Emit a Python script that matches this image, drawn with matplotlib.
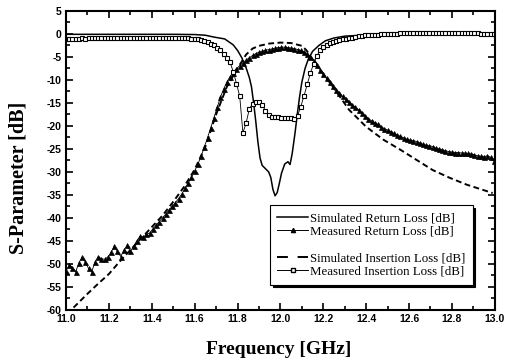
import matplotlib
matplotlib.use("Agg")
import matplotlib.pyplot as plt
from matplotlib.lines import Line2D
from matplotlib.ticker import MultipleLocator, FormatStrFormatter

plt.rcParams['axes.unicode_minus'] = False

# Simulated Return Loss (solid line)
sim_rl_f = [11.0, 11.2, 11.4, 11.5, 11.6, 11.65, 11.69, 11.74, 11.78, 11.80, 11.82, 11.84,
            11.855, 11.865, 11.875, 11.885, 11.895, 11.905, 11.915, 11.93, 11.945, 11.955,
            11.965, 11.975, 11.985, 11.995, 12.005, 12.02, 12.035, 12.045, 12.055, 12.068,
            12.08, 12.09, 12.10, 12.115, 12.13, 12.15, 12.18, 12.21, 12.25, 12.3, 12.4,
            12.6, 12.8, 13.0]
sim_rl_db = [-0.1, -0.1, -0.1, -0.1, -0.15, -0.3, -0.7, -1.1, -2.4, -3.6, -5.2, -7.4,
             -9.5, -11.5, -15.0, -19.0, -23.5, -27.0, -28.6, -29.3, -30.0, -31.2,
             -33.8, -35.2, -34.5, -32.5, -30.3, -28.3, -27.8, -28.4, -26.0, -21.6,
             -17.0, -13.5, -10.5, -7.5, -5.5, -3.8, -2.5, -1.5, -0.9, -0.5, -0.25,
             -0.1, 0.0, 0.0]

# Simulated Insertion Loss (dashed)
sim_il_f = [11.035, 11.1, 11.15, 11.2, 11.25, 11.3, 11.35, 11.4, 11.45, 11.5, 11.55, 11.6,
            11.65, 11.7, 11.75, 11.8, 11.84, 11.87, 11.9, 11.95, 12.0, 12.05, 12.1, 12.12,
            12.14, 12.16, 12.18, 12.2, 12.245, 12.32, 12.40, 12.48, 12.56, 12.635, 12.71,
            12.79, 12.87, 12.99]
sim_il_db = [-59.5, -56.5, -54.3, -52.2, -49.5, -47.0, -44.5, -42.0, -39.5, -36.5, -33.3, -29.5,
             -24.5, -17.5, -11.5, -7.5, -4.5, -3.2, -2.6, -2.1, -1.9, -2.0, -2.6, -3.5,
             -4.8, -6.2, -7.5, -8.7, -11.5, -16.5, -20.2, -23.0, -25.2, -27.4, -29.6,
             -31.3, -32.8, -34.6]

# Measurement sweep frequencies (GHz)
meas_f = [
    11.000, 11.015, 11.030, 11.045, 11.060, 11.075, 11.090, 11.105, 11.120, 11.135,
    11.150, 11.165, 11.180, 11.195, 11.210, 11.225, 11.240, 11.255, 11.270, 11.285,
    11.300, 11.315, 11.330, 11.345, 11.360, 11.375, 11.390, 11.405, 11.420, 11.435,
    11.450, 11.465, 11.480, 11.495, 11.510, 11.525, 11.540, 11.555, 11.570, 11.585,
    11.600, 11.615, 11.630, 11.645, 11.660, 11.675, 11.690, 11.705, 11.720, 11.735,
    11.750, 11.765, 11.780, 11.795, 11.810, 11.825, 11.840, 11.855, 11.870, 11.885,
    11.900, 11.915, 11.930, 11.945, 11.960, 11.975, 11.990, 12.005, 12.020, 12.035,
    12.050, 12.065, 12.080, 12.095, 12.110, 12.125, 12.140, 12.155, 12.170, 12.185,
    12.200, 12.215, 12.230, 12.245, 12.260, 12.275, 12.290, 12.305, 12.320, 12.335,
    12.350, 12.365, 12.380, 12.395, 12.410, 12.425, 12.440, 12.455, 12.470, 12.485,
    12.500, 12.515, 12.530, 12.545, 12.560, 12.575, 12.590, 12.605, 12.620, 12.635,
    12.650, 12.665, 12.680, 12.695, 12.710, 12.725, 12.740, 12.755, 12.770, 12.785,
    12.800, 12.815, 12.830, 12.845, 12.860, 12.875, 12.890, 12.905, 12.920, 12.935,
    12.950, 12.965, 12.980, 12.995]

# Measured Return Loss (triangles)
meas_rl_db = [
    -51.5, -50.3, -50.8, -51.7, -49.8, -48.5, -49.6, -51.0, -51.7, -49.6,
    -48.4, -48.9, -49.0, -48.5, -47.5, -46.2, -47.3, -48.4, -47.0, -46.0,
    -47.3, -46.2, -45.0, -44.0, -44.2, -43.6, -43.3, -42.4, -41.6, -40.8,
    -40.0, -39.2, -38.3, -37.5, -36.7, -35.8, -34.8, -33.6, -32.4, -31.2,
    -29.8, -28.3, -26.6, -24.6, -22.6, -20.4, -18.2, -16.0, -13.8, -12.0,
    -10.5, -9.3, -8.4, -7.6, -6.9, -6.3, -5.7, -5.2, -4.7, -4.3,
    -4.0, -3.8, -3.6, -3.4, -3.3, -3.1, -3.0, -2.9, -2.9, -3.0,
    -3.1, -3.2, -3.4, -3.6, -3.9, -4.4, -5.0, -5.8, -6.7, -7.8,
    -8.7, -9.6, -10.5, -11.4, -12.1, -12.9, -13.6, -14.2, -14.8, -15.4,
    -16.0, -16.5, -17.2, -17.8, -18.4, -18.9, -19.3, -19.7, -20.2, -20.6,
    -20.9, -21.3, -21.6, -22.0, -22.3, -22.6, -22.9, -23.1, -23.2, -23.4,
    -23.7, -24.0, -24.2, -24.3, -24.5, -24.8, -25.0, -25.2, -25.4, -25.6,
    -25.7, -25.8, -25.8, -25.9, -25.9, -26.0, -26.1, -26.3, -26.5, -26.6,
    -26.7, -26.5, -26.8, -27.6]

# Measured Insertion Loss (squares)
meas_il_db = [
    -1.1, -1.1, -1.05, -1.05, -1.05, -1.0, -1.05, -1.0, -1.0, -1.0,
    -1.0, -1.0, -0.95, -1.0, -0.95, -0.95, -0.95, -0.95, -0.95, -0.9,
    -0.95, -0.9, -0.9, -0.9, -0.9, -0.9, -0.9, -0.9, -0.9, -0.85,
    -0.9, -0.85, -0.85, -0.85, -0.9, -0.9, -0.9, -0.95, -1.0, -1.05,
    -1.1, -1.2, -1.35, -1.55, -1.8, -2.1, -2.5, -3.0, -3.6, -4.4,
    -5.2, -6.2, -8.2, -10.8, -13.5, -21.5, -19.4, -16.3, -15.2, -14.8,
    -14.8, -15.4, -16.7, -17.6, -18.0, -18.1, -18.1, -18.2, -18.2, -18.3,
    -18.3, -18.5, -17.8, -15.8, -13.5, -11.0, -8.5, -6.5, -4.8, -3.6,
    -2.8, -2.4, -2.0, -1.8, -1.6, -1.4, -1.2, -1.05, -0.9, -0.8,
    -0.7, -0.55, -0.45, -0.35, -0.3, -0.25, -0.2, -0.15, -0.1, -0.05,
    0.0, 0.0, 0.05, 0.05, 0.1, 0.1, 0.1, 0.15, 0.15, 0.15,
    0.15, 0.15, 0.2, 0.2, 0.2, 0.2, 0.15, 0.15, 0.2, 0.2,
    0.2, 0.15, 0.15, 0.15, 0.15, 0.1, 0.1, 0.1, 0.1, 0.05,
    0.05, 0.05, 0.0, 0.0]

labels = ["Simulated Return Loss [dB]", "Measured Return Loss [dB]",
          "Simulated Insertion Loss [dB]", "Measured Insertion Loss [dB]"]

fig = plt.figure(figsize=(5.08, 3.62), dpi=100)
ax = fig.add_axes([0.130, 0.144, 0.844, 0.826])

ax.plot(sim_rl_f, sim_rl_db, color='black', lw=1.1)
ax.plot(meas_f, meas_rl_db, color='black', lw=0.6, marker='^', ms=3.6,
        mfc='black', mec='black', mew=0.5)
ax.plot(sim_il_f, sim_il_db, color='black', lw=1.4, linestyle=(0, (3, 1.8)))
ax.plot(meas_f, meas_il_db, color='black', lw=0.6, marker='s', ms=3.4,
        mfc='white', mec='black', mew=0.8)

ax.set_xlim(11.0, 13.0)
ax.set_ylim(-60, 5)
ax.xaxis.set_major_locator(MultipleLocator(0.2))
ax.xaxis.set_minor_locator(MultipleLocator(0.1))
ax.yaxis.set_major_locator(MultipleLocator(5))
ax.yaxis.set_minor_locator(MultipleLocator(2.5))
ax.xaxis.set_major_formatter(FormatStrFormatter('%.1f'))
ax.yaxis.set_major_formatter(FormatStrFormatter('%d'))
ax.tick_params(which='both', direction='in', top=True, right=True, width=1.2)
ax.tick_params(which='major', length=5, labelsize=7.5, pad=3)
ax.tick_params(which='minor', length=3)
for lab in ax.get_xticklabels() + ax.get_yticklabels():
    lab.set_fontfamily('Liberation Sans')
    lab.set_fontweight('bold')
for s in ax.spines.values():
    s.set_linewidth(1.5)

ax.set_xlabel("Frequency [GHz]", fontfamily='Liberation Serif', fontweight='bold',
              fontsize=14)
ax.set_ylabel("S-Parameter [dB]", fontfamily='Liberation Serif', fontweight='bold',
              fontsize=14.5)
ax.xaxis.label.set_va('center')
ax.yaxis.label.set_va('center')
ax.xaxis.set_label_coords(0.495, -0.134)
ax.yaxis.set_label_coords(-0.11, 0.44)

handles = [
    Line2D([], [], color='black', lw=1.1),
    Line2D([], [], color='black', lw=0.7, marker='^', ms=3, mfc='black'),
    Line2D([], [], linestyle='none'),
    Line2D([], [], color='black', lw=1.4, linestyle=(0, (5.6, 5))),
    Line2D([], [], color='black', lw=0.7, marker='s', ms=3, mfc='white'),
]
leg_labels = [labels[0], labels[1], " ", labels[2], labels[3]]
leg = ax.legend(handles, leg_labels, loc='upper left', bbox_to_anchor=(0.476, 0.351),
                borderaxespad=0,
                prop={'family': 'Liberation Serif', 'size': 9.3}, frameon=True,
                fancybox=False, edgecolor='black', framealpha=1,
                shadow={'color': 'black', 'alpha': 1}, handlelength=2.4,
                handletextpad=0.15, labelspacing=0.1, borderpad=0.55)
leg.get_frame().set_linewidth(0.8)

fig.savefig("out.png", dpi=100)
